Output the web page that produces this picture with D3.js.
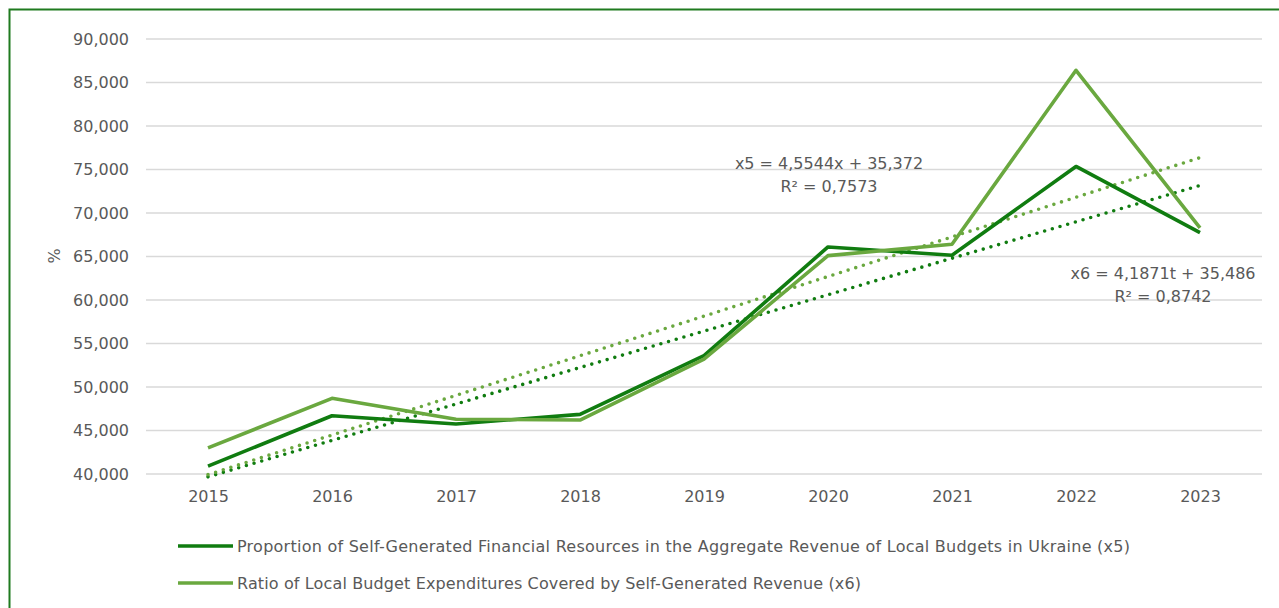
<!DOCTYPE html>
<html><head><meta charset="utf-8">
<script src="https://cdn.jsdelivr.net/npm/d3@7/dist/d3.min.js"></script>
<style>
html,body{margin:0;padding:0;background:#fff;}
svg{display:block;font-family:"DejaVu Sans",sans-serif;}
</style></head><body>
<svg id="c" width="1279" height="608"></svg>
<script>
const years = ["2015","2016","2017","2018","2019","2020","2021","2022","2023"];
const x5 = [40.9, 46.7, 45.75, 46.85, 53.6, 66.1, 65.15, 75.35, 67.75];
const x6 = [43.0, 48.7, 46.3, 46.2, 53.2, 65.1, 66.4, 86.4, 68.3];
const seriesNames = [
  "Proportion of Self-Generated Financial Resources in the Aggregate Revenue of Local Budgets in Ukraine (x5)",
  "Ratio of Local Budget Expenditures Covered by Self-Generated Revenue (x6)"
];
const seriesColors = ["#107c10", "#6aa83f"];
// trend lines as labelled: slope, intercept (x = 1..9)
const trendSlope = [4.1871, 4.5544];
const trendIntercept = [35.486, 35.372];
const eqLabels = [["x5 = 4,5544x + 35,372","R² = 0,7573"],["x6 = 4,1871t + 35,486","R² = 0,8742"]];
const yTicks = [40,45,50,55,60,65,70,75,80,85,90];

const FF = "DejaVu Sans, sans-serif", FS = 16, TC = "#595959";
const svg = d3.select("#c");
const W = 1279, H = 608;
svg.append("rect").attr("x",9.5).attr("y",9.5).attr("width",W+5).attr("height",H+5)
  .attr("fill","#fff").attr("stroke","#1f7a1f").attr("stroke-width",2);

const pL=146, pR=1262, pT=39, pB=474;
const x = d3.scalePoint().domain(years).range([pL,pR]).padding(0.5);
const y = d3.scaleLinear().domain([40,90]).range([pB,pT]);
const fmtTick = v => d3.format(",")(v*1000);

// gridlines
svg.append("g").selectAll("line").data(yTicks).join("line")
  .attr("x1",pL).attr("x2",pR).attr("y1",d=>y(d)).attr("y2",d=>y(d))
  .attr("stroke","#d9d9d9").attr("stroke-width",1.3);

// y axis
const ya = svg.append("g").attr("transform",`translate(${pL},0)`)
  .call(d3.axisLeft(y).tickValues(yTicks).tickFormat(fmtTick).tickSize(0).tickPadding(17));
ya.select(".domain").remove();
ya.selectAll("text").attr("font-size",FS).attr("fill",TC).attr("font-family",FF);

// x axis
const xa = svg.append("g").attr("transform",`translate(0,${pB})`)
  .call(d3.axisBottom(x).tickSize(0).tickPadding(17));
xa.select(".domain").remove();
xa.selectAll("text").attr("font-size",FS).attr("fill",TC).attr("font-family",FF);

// y title
svg.append("text").attr("transform",`translate(60,256) rotate(-90)`).attr("text-anchor","middle")
  .attr("font-size",FS).attr("fill",TC).text("%");

const data = [x5,x6];
const line = d3.line().x((d,i)=>x(years[i])).y(d=>y(d));
// trend lines
trendSlope.forEach((s,k)=>{
  const pts = years.map((yr,i)=>[x(yr), y(s*(i+1)+trendIntercept[k])]);
  svg.append("path").attr("d",d3.line()(pts)).attr("fill","none")
    .attr("stroke",seriesColors[k]).attr("stroke-width",3.6)
    .attr("stroke-linecap","round").attr("stroke-dasharray","0,8");
});
data.forEach((s,k)=>{
  svg.append("path").attr("d",line(s)).attr("fill","none")
    .attr("stroke",seriesColors[k]).attr("stroke-width",3.6).attr("stroke-linejoin","round");
});
// equation labels
const eqPos = [[829,169],[1163,279]];
eqLabels.forEach((lines,k)=>{
  lines.forEach((t,j)=>{
    svg.append("text").attr("x",eqPos[k][0]).attr("y",eqPos[k][1]+j*23)
      .attr("text-anchor","middle").attr("font-size",FS).attr("fill",TC).text(t);
  });
});

// legend
const legendLen = [893, 624];
seriesNames.forEach((n,k)=>{
  const yy = 546 + k*37;
  svg.append("line").attr("x1",178).attr("x2",233).attr("y1",yy).attr("y2",yy)
    .attr("stroke",seriesColors[k]).attr("stroke-width",3.6);
  svg.append("text").attr("x",237).attr("y",yy+6).attr("font-size",FS).attr("fill",TC)
    .attr("textLength",legendLen[k]).attr("lengthAdjust","spacing").text(n);
});
</script>
</body></html>
